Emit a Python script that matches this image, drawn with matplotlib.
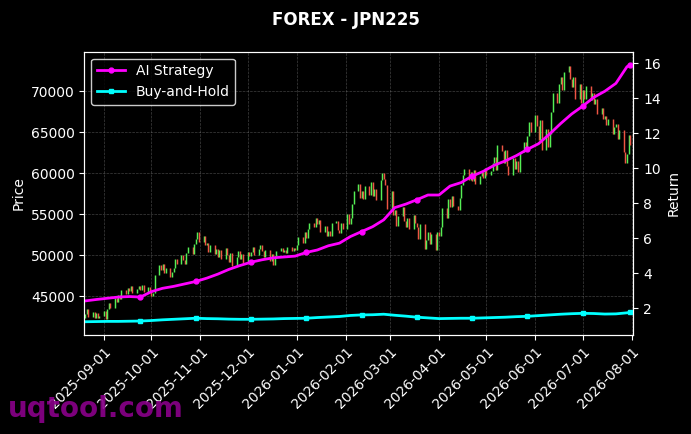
import matplotlib
matplotlib.use("Agg")
import matplotlib.pyplot as plt
import matplotlib.dates as mdates
import pandas as pd

# daily closes (thousands), Wed 2025-08-20 .. Fri 2026-07-31, one row per week
close_k = [
    42.8, 43.4, 42.5, 43.1, 42.4,
    43.0, 42.3, 42.6, 43.2, 42.2,
    43.5, 44.2, 43.6, 44.8, 44.3,
    45.2, 44.7, 45.8, 45.3, 46.0,
    45.6, 46.2, 45.4, 45.9, 46.3,
    45.8, 46.4, 45.5, 46.1, 45.6,
    45.0, 45.4, 47.6, 48.8, 48.2,
    48.9, 47.8, 48.5, 47.3, 48.0,
    48.4, 49.6, 48.9, 50.0, 49.4,
    49.0, 50.3, 51.0, 50.2, 51.4,
    52.0, 52.8, 51.6, 52.4, 51.2,
    51.5, 50.4, 51.2, 50.1, 50.8,
    49.8, 50.6, 49.6, 50.9, 50.0,
    49.2, 50.3, 48.7, 49.8, 50.5,
    49.5, 50.2, 49.1, 50.4, 49.9,
    50.4, 51.0, 50.0, 50.8, 51.2,
    50.5, 49.8, 50.6, 49.3, 50.1,
    48.8, 49.9, 50.5, 50.9, 50.4,
    50.7, 50.3, 51.0, 50.5, 50.9,
    50.6, 51.3, 52.2, 51.5, 52.8,
    52.1, 53.2, 54.0, 53.4, 54.5,
    53.8, 54.3, 52.8, 53.6, 52.3,
    53.0, 52.4, 53.9, 54.2, 53.1,
    52.7, 54.0, 53.2, 55.0, 53.8,
    54.6, 56.2, 57.9, 58.7, 57.0,
    57.8, 56.9, 58.5, 57.4, 58.9,
    57.2, 58.1, 56.8, 59.2, 60.0,
    59.3, 58.6, 55.6, 57.8, 54.9,
    55.5, 53.6, 54.8, 55.9, 54.2,
    53.5, 54.6, 53.2, 54.9, 54.0,
    53.4, 52.0, 53.8, 50.8, 51.9,
    52.8, 51.4, 52.6, 50.7, 52.9,
    52.3, 53.5, 55.8, 54.6, 56.9,
    55.9, 57.2, 56.0, 55.5, 57.0,
    58.6, 59.8, 60.5, 59.2, 60.2,
    59.0, 60.4, 58.7, 59.7, 60.1,
    59.4, 60.7, 59.8, 60.3, 61.2,
    62.0, 60.4, 63.5, 62.7, 61.3,
    62.8, 60.9, 59.8, 61.9, 60.5,
    61.5, 60.2, 62.6, 63.8, 63.0,
    64.5, 66.2, 65.0, 67.1, 65.8,
    64.0, 66.5, 62.8, 65.4, 63.2,
    64.8, 67.5, 69.8, 68.6, 70.9,
    71.8, 70.2, 72.4, 73.1, 71.5,
    70.5, 71.8, 69.0, 70.9, 68.6,
    70.2, 69.1, 70.6, 68.9, 69.8,
    68.4, 69.0, 67.2, 68.0, 66.6,
    67.0, 65.9, 66.6, 64.8, 65.7,
    66.0, 64.2, 65.3, 62.6, 61.2,
    62.3, 64.7, 63.4,
]
first_open_k = 42.3

# weekly returns (every Wednesday, plus the last day)
ai_return = [
    2.42, 2.50, 2.57, 2.64, 2.67, 2.64, 2.95, 3.14, 3.25, 3.39,
    3.53, 3.72, 3.95, 4.22, 4.44, 4.63, 4.77, 4.88, 4.93, 4.98,
    5.19, 5.33, 5.57, 5.72, 6.10, 6.38, 6.66, 7.05, 7.75, 7.95,
    8.20, 8.47, 8.47, 8.98, 9.18, 9.55, 9.82, 10.17, 10.42, 10.72,
    11.08, 11.40, 11.95, 12.55, 13.10, 13.55, 14.05, 14.40, 14.85, 15.80,
    15.90,
]
bh_return = [
    1.23, 1.24, 1.25, 1.25, 1.26, 1.27, 1.30, 1.34, 1.37, 1.40,
    1.43, 1.41, 1.40, 1.38, 1.37, 1.37, 1.38, 1.39, 1.41, 1.42,
    1.43, 1.47, 1.50, 1.53, 1.59, 1.62, 1.63, 1.66, 1.60, 1.55,
    1.49, 1.45, 1.41, 1.42, 1.43, 1.43, 1.45, 1.47, 1.49, 1.52,
    1.54, 1.58, 1.62, 1.66, 1.69, 1.71, 1.70, 1.67, 1.68, 1.74,
    1.77,
]

closes = [c * 1000 for c in close_k]
opens = [first_open_k * 1000] + closes[:-1]
dates = pd.bdate_range("2025-08-20", periods=len(closes))
line_dates = list(dates[::5]) + [dates[-1]]

up_color = "#55ee55"
down_color = "#ee5544"
colors = [up_color if c >= o else down_color for o, c in zip(opens, closes)]

fig = plt.figure(figsize=(6.91, 4.34), dpi=100, facecolor="black")
ax = fig.add_axes([0.122, 0.228, 0.7945, 0.653])
ax.set_facecolor("black")
ax2 = ax.twinx()

ax.vlines(dates, opens, closes, colors=colors, linewidth=1.05)

ax2.plot(line_dates, ai_return, color="#ff00ff", linewidth=2, marker="o",
         markersize=3.5, markevery=(5, 5), label="AI Strategy")
ax2.plot(line_dates, bh_return, color="#00ffff", linewidth=2, marker="s",
         markersize=3.5, markevery=(5, 5), label="Buy-and-Hold")

ax.set_xlim(pd.Timestamp("2025-08-19 12:00"), pd.Timestamp("2026-08-02"))
ax.set_ylim(40280, 74830)
ax2.set_ylim(0.47, 16.66)

ax.xaxis.set_major_locator(mdates.MonthLocator())
ax.xaxis.set_major_formatter(mdates.DateFormatter("%Y-%m-%d"))
for lbl in ax.get_xticklabels():
    lbl.set_rotation(45)
    lbl.set_ha("right")
    lbl.set_rotation_mode("anchor")

ax.grid(True, color="gray", linestyle="--", linewidth=0.5, alpha=0.5)
ax.set_ylabel("Price", color="white")
ax2.set_ylabel("Return", color="white")
for a in (ax, ax2):
    a.tick_params(colors="white", labelsize=10)
    for s in a.spines.values():
        s.set_color("white")

fig.suptitle("FOREX - JPN225", color="white", fontsize=12, fontweight="bold", y=0.975)

leg = ax2.legend(loc="upper left", facecolor="black", edgecolor="white", fontsize=10)
for t in leg.get_texts():
    t.set_color("white")

fig.text(0.012, 0.04, "uqtool.com", color="#8b008b", fontsize=20, fontweight="bold", alpha=0.9)

fig.savefig("out.png", dpi=100, facecolor="black")
